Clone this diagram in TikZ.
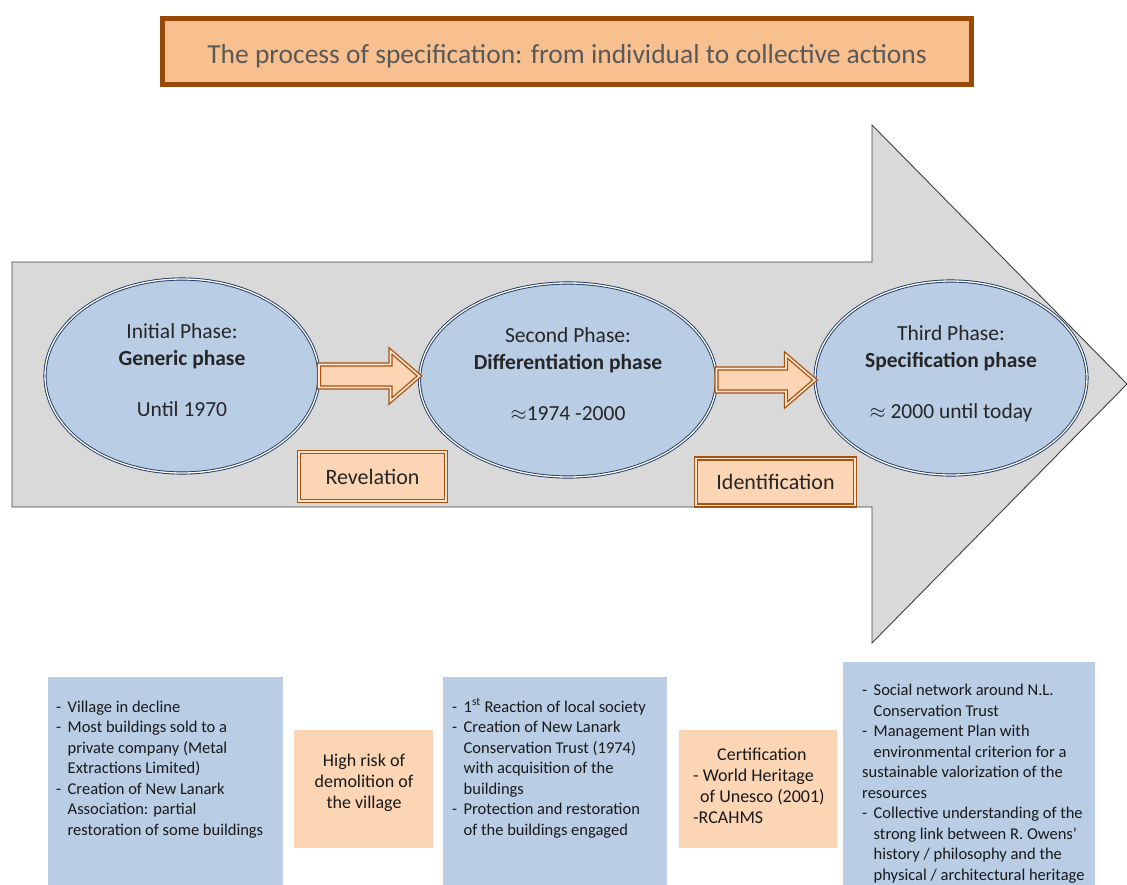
\documentclass[tikz,border=0pt]{standalone}
\usepackage{fontspec}
\setmainfont{Carlito}
\usetikzlibrary{calc,shapes.geometric}
\definecolor{titlefill}{HTML}{F9C08F}
\definecolor{titledraw}{HTML}{984807}
\definecolor{titletext}{HTML}{595959}
\definecolor{shaftgray}{HTML}{D9D9D9}
\definecolor{shaftline}{HTML}{404040}
\definecolor{phasefill}{HTML}{B9CDE5}
\definecolor{phasedraw}{HTML}{1F3864}
\definecolor{peach}{HTML}{FCD5B5}
\definecolor{rust}{HTML}{A9500F}
\newcommand{\bdash}{\makebox[11.5pt][l]{-}}
\newcommand{\bskip}{\hspace*{11.5pt}}
\newcommand{\blockarrow}[2]{%
	\draw [blockarr] let \p1=(#1), \p2=(#2) in
		(\x1,\y1+11.5pt) -- (\x2-29pt,\y1+11.5pt) -- (\x2-29pt,\y1+25pt) -- (\x2,\y1)
		-- (\x2-29pt,\y1-25pt) -- (\x2-29pt,\y1-11.5pt) -- (\x1,\y1-11.5pt) -- cycle;}
\begin{document}
\begin{tikzpicture}[x=1pt, y=1pt,
	phase/.style={ellipse, fill=phasefill, draw=phasedraw, line width=0.9pt, double=white, double distance=1.3pt, inner sep=0pt, outer sep=0pt, minimum height=194, align=center, font=\fontsize{21.5}{27}\selectfont, text=black!85},
	blockarr/.style={fill=peach, draw=rust, line width=1.3pt, double=peach!60!white, double distance=1.6pt},
	stepname/.style={rectangle, fill=peach, draw=rust, line width=1.3pt, double=peach!60!white, double distance=1.6pt, font=\fontsize{22}{26}\selectfont, text=black!85},
	bluebox/.style={rectangle, fill=phasefill, inner sep=0pt, anchor=north west},
	peachbox/.style={rectangle, fill=peach, inner sep=0pt, anchor=north west},
	boxtext/.style={inner sep=0pt, align=left, anchor=north west, font=\fontsize{16.5}{20.5}\selectfont, text=black!90},
	peachtext/.style={inner sep=0pt, align=center, font=\fontsize{18}{21}\selectfont, text=black!90}]
	\useasboundingbox (0,0) rectangle (1127,-884);
	\node [rectangle, fill=titlefill, draw=titledraw, line width=5pt, minimum width=809, minimum height=66, text height=30pt, text depth=5.5pt, text=titletext, font=\fontsize{27.5}{30}\selectfont] (title) at (567,-51.5) {The process of specification: from individual to collective actions};
	\draw [fill=shaftgray, draw=shaftline, line width=0.9pt] (12,-262) -- (872,-262) -- (872,-125) -- (1127,-384) -- (872,-643) -- (872,-507) -- (12,-507) -- cycle;
	\node [phase, minimum width=274] (e1) at (182,-376) {Initial Phase:\\\textbf{Generic phase}\\[24pt]Until 1970\\[-16pt]\mbox{}};
	\node [phase, minimum width=297] (e2) at (568,-380) {Second Phase:\\\textbf{Differentiation phase}\\[24pt]$\approx$1974 -2000\\[-16pt]\mbox{}};
	\node [phase, minimum width=272] (e3) at (951,-378) {Third Phase:\\\textbf{Specification phase}\\[24pt]$\approx$ 2000 until today\\[-16pt]\mbox{}};
	\blockarrow{e1.east}{e2.west}
	\blockarrow{e2.east}{e3.west}
	\node [stepname, minimum width=147, minimum height=49] (rev) at (372.5,-476.5) {Revelation};
	\node [stepname, minimum width=159, minimum height=47] (ident) at (775.5,-482) {Identification};
	\node [bluebox, minimum width=235, minimum height=215] (b1) at (48,-677) {};
	\node [peachbox, minimum width=139, minimum height=118] (p1) at (294,-730) {};
	\node [bluebox, minimum width=224, minimum height=215] (b2) at (443,-677) {};
	\node [peachbox, minimum width=158, minimum height=118] (p2) at (679,-730) {};
	\node [bluebox, minimum width=252, minimum height=230] (b3) at (843,-662) {};
	\node [boxtext] (t1) at (56,-700.5) {\bdash Village in decline\\\bdash Most buildings sold to a\\\bskip private company (Metal\\\bskip Extractions Limited)\\\bdash Creation of New Lanark\\\bskip Association: partial\\\bskip restoration of some buildings};
	\node [peachtext] (t2) at (364,-782.5) {High risk of\\demolition of\\the village};
	\node [boxtext] (t3) at (452,-700.5) {\bdash 1\smash{\textsuperscript{st}} Reaction of local society\\\bdash Creation of New Lanark\\\bskip Conservation Trust (1974)\\\bskip with acquisition of the\\\bskip buildings\\\bdash Protection and restoration\\\bskip of the buildings engaged};
	\node [peachtext, align=left, anchor=north west] (t4) at (693,-748) {\hspace*{24pt}Certification\\- World Heritage\\\hspace*{7pt}of Unesco (2001)\\-RCAHMS};
	\node [boxtext] (t5) at (862,-684) {\bdash Social network around N.L.\\\bskip Conservation Trust\\\bdash Management Plan with\\\bskip environmental criterion for a\\sustainable valorization of the\\resources\\\bdash Collective understanding of the\\\bskip strong link between R. Owens’\\\bskip history / philosophy and the\\\bskip physical / architectural heritage};
\end{tikzpicture}
\end{document}
